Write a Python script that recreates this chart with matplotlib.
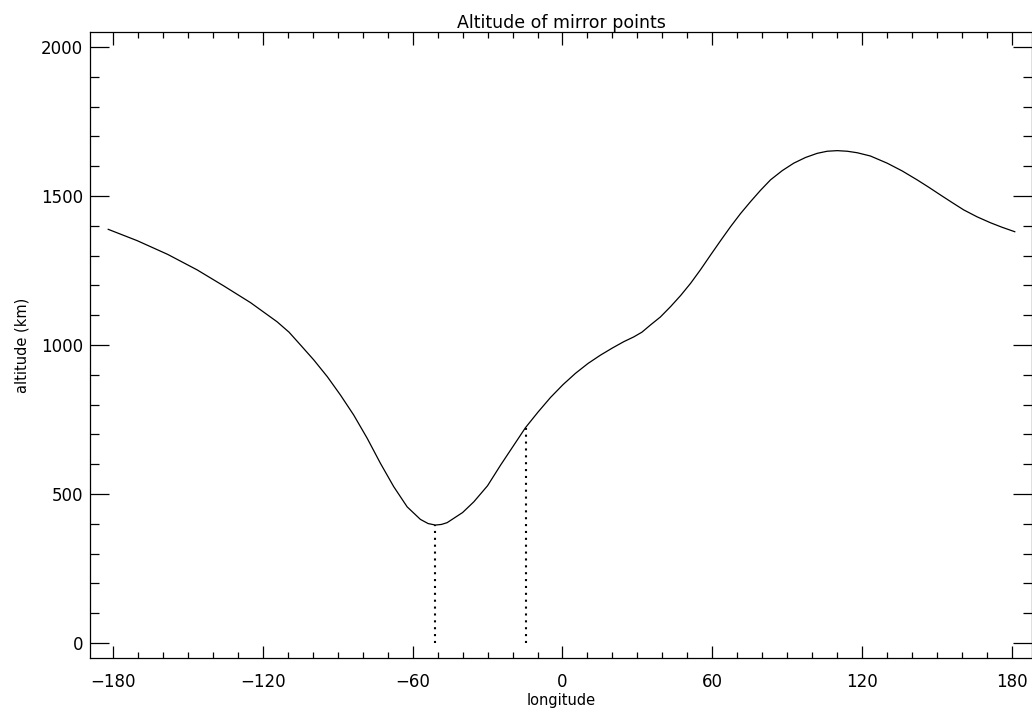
import numpy as np
import matplotlib
matplotlib.use("Agg")
import matplotlib.pyplot as plt
from matplotlib.ticker import MultipleLocator

# longitude (deg) and mirror point altitude (km)
longitude = [-181.9, -170.3, -158.1, -146.3, -135.6, -124.9, -114.3, -109.5,
             -104.9, -99.6, -94.2, -88.9, -83.6, -78.2, -72.9, -67.6, -62.2,
             -56.9, -53.8, -50.9, -48.5, -46.2, -40.0, -35.5, -30.0, -24.8,
             -19.8, -14.8, -9.8, -4.8, 0.2, 5.2, 10.2, 15.2, 20.0, 24.5, 28.5,
             31.8, 35.2, 39.2, 43.3, 47.3, 51.3, 55.3, 59.3, 63.3, 67.3, 71.3,
             75.3, 79.3, 83.3, 88.0, 92.6, 97.3, 102.0, 106.0, 110.0, 114.0,
             118.0, 123.3, 130.0, 136.0, 142.0, 146.7, 151.4, 156.0, 160.7,
             166.0, 171.4, 176.0, 181.1]
altitude = [1388, 1350, 1304, 1252, 1198, 1142, 1078, 1043,
            1000, 950, 894, 832, 765, 687, 603, 525, 457,
            415, 401, 396, 398, 404, 438, 474, 528, 597,
            660, 723, 775, 824, 867, 905, 938, 966, 990, 1011, 1027,
            1043, 1067, 1094, 1129, 1166, 1207, 1253, 1302, 1350, 1397, 1441,
            1481, 1519, 1554, 1585, 1610, 1629, 1643, 1650, 1652, 1650,
            1645, 1634, 1610, 1584, 1554, 1529, 1503, 1478, 1453,
            1430, 1410, 1395, 1380]

# dotted markers: longitude and altitude reached at that longitude
marker_lon = [-50.9, -14.8]
marker_alt = [396, 723]

W, H = 1032, 714
fig = plt.figure(figsize=(W / 100, H / 100), dpi=100)
ax = fig.add_axes([90 / W, (H - 658) / H, (W - 90) / W, 626 / H])

ax.plot(longitude, altitude, color="black", linewidth=0.9)

for lon, alt in zip(marker_lon, marker_alt):
    ax.plot([lon, lon], [0, alt], color="black", linewidth=1.5,
            linestyle=(0, (1, 2.3)))

ax.set_xlim(-189.2, 188.0)
ax.set_ylim(-50, 2050)

ax.xaxis.set_major_locator(MultipleLocator(60))
ax.xaxis.set_minor_locator(MultipleLocator(10))
ax.yaxis.set_major_locator(MultipleLocator(500))
ax.yaxis.set_minor_locator(MultipleLocator(100))

ax.tick_params(axis="both", which="both", direction="in",
               top=True, right=True, width=0.9, labelsize=12)
ax.tick_params(axis="x", which="major", length=9, pad=11)
ax.tick_params(axis="x", which="minor", length=4.5)
ax.tick_params(axis="y", which="major", length=13.5, pad=5)
ax.tick_params(axis="y", which="minor", length=6.5)

for s in ax.spines.values():
    s.set_linewidth(0.9)

ax.set_title("Altitude of mirror points", fontsize=12.5, pad=3)
ax.set_xlabel("longitude", fontsize=10.5, labelpad=1)
ax.set_ylabel("altitude (km)", fontsize=10.5, labelpad=8)

fig.savefig("out.png", dpi=100)
